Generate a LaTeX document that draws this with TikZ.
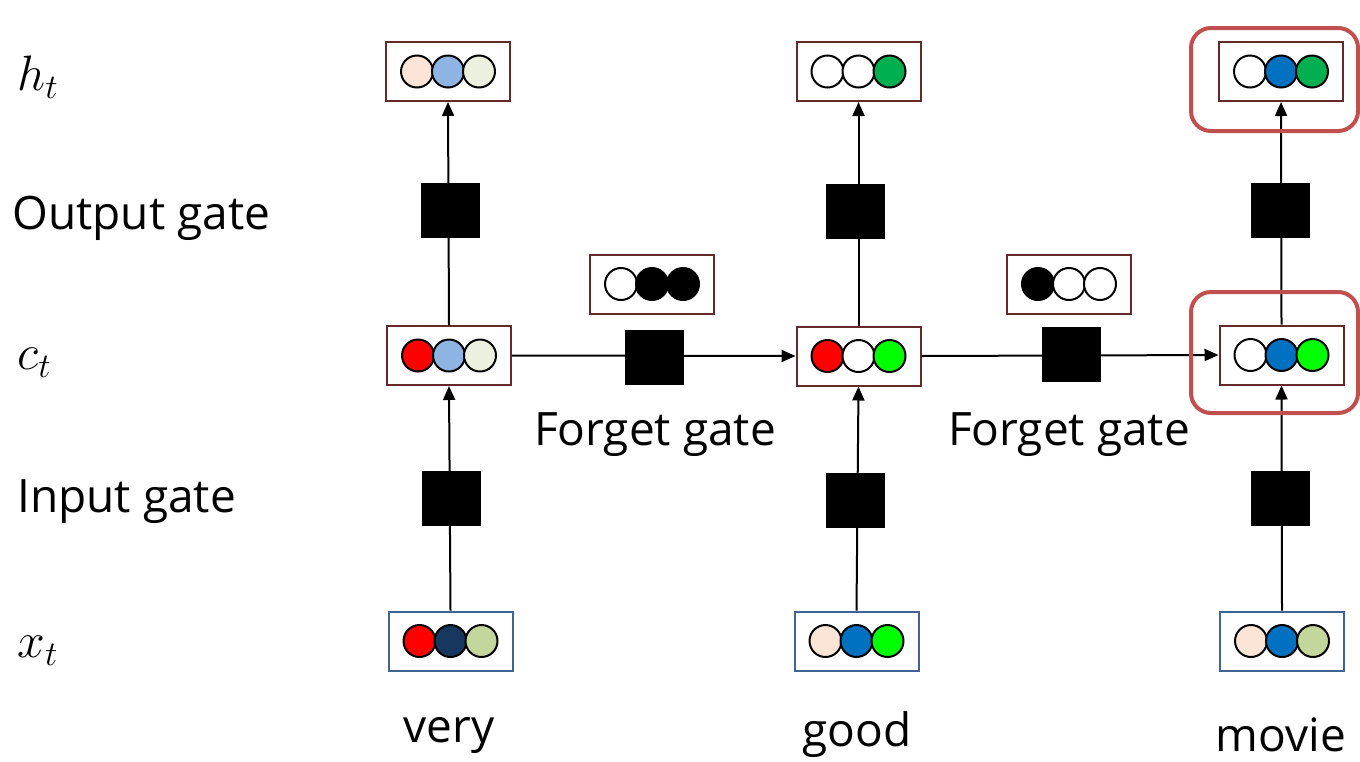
\documentclass[tikz,border=0pt]{standalone}
\usepackage{fontspec}
\setmainfont{Open Sans}
\usetikzlibrary{arrows.meta}

\definecolor{boxred}{RGB}{100,42,42}
\definecolor{boxblue}{RGB}{65,100,150}
\definecolor{hilite}{RGB}{192,80,77}
\definecolor{peach}{RGB}{252,228,214}
\definecolor{ltblue}{RGB}{142,180,227}
\definecolor{ltgreen}{RGB}{235,241,222}
\definecolor{navy}{RGB}{23,55,94}
\definecolor{olive}{RGB}{195,214,155}
\definecolor{midgreen}{RGB}{0,176,80}
\definecolor{brgreen}{RGB}{0,255,0}
\definecolor{midblue}{RGB}{0,112,192}

% one vector: a framed box holding three filled dots
\newcommand\cellvec[7]{%
  \node[vecbox,draw=#4] (#1) at (#2,#3) {};
  \node[dot,fill=#5] (#1-a) at (#2-31,#3) {};
  \node[dot,fill=#6] (#1-b) at (#2,#3) {};
  \node[dot,fill=#7] (#1-c) at (#2+31,#3) {};
}

\begin{document}
\begin{tikzpicture}[x=0.5pt,y=-0.5pt,
  vecbox/.style={rectangle,fill=white,line width=1pt,minimum width=62pt,minimum height=29.5pt,inner sep=0pt},
  dot/.style={circle,draw=black,line width=1pt,minimum size=16pt,inner sep=0pt},
  gatebox/.style={rectangle,fill=black,minimum width=29.5pt,minimum height=27.5pt,inner sep=0pt},
  flow/.style={line width=1pt,-{Triangle[length=7pt,width=6pt]}},
  hl/.style={draw=hilite,line width=2pt,rounded corners=10pt},
  txt/.style={font=\fontsize{23pt}{27pt}\selectfont,inner sep=0pt},
  mathlbl/.style={font=\fontsize{25pt}{29pt}\selectfont,inner sep=0pt,anchor=west}]
\useasboundingbox (0,0) rectangle (1360,761);

% vectors
\cellvec{h1}{448}{71.5}{boxred}{peach}{ltblue}{ltgreen}
\cellvec{c1}{449}{355.5}{boxred}{red}{ltblue}{ltgreen}
\cellvec{x1}{450.5}{641}{boxblue}{red}{navy}{olive}
\cellvec{h2}{858.5}{71.5}{boxred}{white}{white}{midgreen}
\cellvec{c2}{858.5}{356}{boxred}{red}{white}{brgreen}
\cellvec{x2}{856.5}{641}{boxblue}{peach}{midblue}{brgreen}
\cellvec{h3}{1281}{71.5}{boxred}{white}{midblue}{midgreen}
\cellvec{c3}{1281.5}{355}{boxred}{white}{midblue}{brgreen}
\cellvec{x3}{1282}{641}{boxblue}{peach}{midblue}{olive}
\cellvec{f1}{652}{284}{boxred}{white}{black}{black}
\cellvec{f2}{1069}{284}{boxred}{black}{white}{white}

% connectors
\draw[flow] (x1.north) -- (c1.south);
\draw[flow] (c1.north) -- (h1.south);
\draw[flow] (x2.north) -- (c2.south);
\draw[flow] (c2.north) -- (h2.south);
\draw[flow] (x3.north) -- (c3.south);
\draw[flow] (c3.north) -- (h3.south);
\draw[flow] (c1.east) -- (c2.west);
\draw[flow] (c2.east) -- (c3.west);

% gates
\node[gatebox] (og1) at (450.5,210) {};
\node[gatebox] (ig1) at (451,498) {};
\node[gatebox] (fg1) at (654,357.5) {};
\node[gatebox] (og2) at (855.5,211) {};
\node[gatebox] (ig2) at (855.5,500) {};
\node[gatebox] (fg2) at (1071,354) {};
\node[gatebox] (og3) at (1280.5,210.5) {};
\node[gatebox] (ig3) at (1280.5,498) {};

% highlights
\draw[hl] (1191,28) rectangle (1358,131);
\draw[hl] (1191,292) rectangle (1358,413);

% row labels
\node[mathlbl] (lh) at (17,77) {$h_t$};
\node[txt,anchor=west] (lo) at (12,218) {Output gate};
\node[mathlbl] (lc) at (17,363) {$c_t$};
\node[txt,anchor=west] (li) at (17,502) {Input gate};
\node[mathlbl] (lx) at (17,651) {$x_t$};

\node[txt] (lf1) at (655,435) {Forget gate};
\node[txt] (lf2) at (1069,435) {Forget gate};

% words
\node[txt] (w1) at (449,735) {very};
\node[txt] (w2) at (857,735) {good};
\node[txt] (w3) at (1281,735) {movie};
\end{tikzpicture}
\end{document}
